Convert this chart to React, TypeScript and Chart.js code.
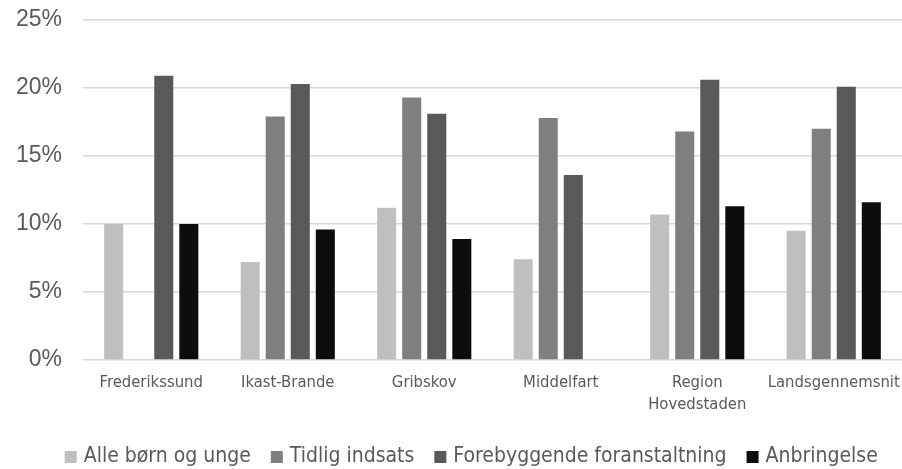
import React, { useEffect, useRef } from "react";
import { Chart, registerables } from "chart.js";

Chart.register(...registerables);

const categories: (string | string[])[] = [
  "Frederikssund",
  "Ikast-Brande",
  "Gribskov",
  "Middelfart",
  ["Region", "Hovedstaden"],
  "Landsgennemsnit",
];

const alleBoernOgUnge: (number | null)[] = [10.0, 7.2, 11.2, 7.4, 10.7, 9.5];
const tidligIndsats: (number | null)[] = [null, 17.9, 19.3, 17.8, 16.8, 17.0];
const forebyggende: (number | null)[] = [20.9, 20.3, 18.1, 13.6, 20.6, 20.1];
const anbringelse: (number | null)[] = [10.0, 9.6, 8.9, null, 11.3, 11.6];

const seriesNames = [
  "Alle børn og unge",
  "Tidlig indsats",
  "Forebyggende foranstaltning",
  "Anbringelse",
];
const seriesColors = ["#bfbfbf", "#7f7f7f", "#595959", "#0d0d0d"];

const yTicks = [0, 5, 10, 15, 20, 25];

const NARROW = "'DejaVu Sans Condensed', 'Liberation Sans Narrow', 'Liberation Sans', Arial, sans-serif";
const REGULAR = "'Liberation Sans', Arial, sans-serif";

const unclipYLabels = {
  id: "unclipYLabels",
  beforeDraw(chart: any) {
    const y = chart.scales.y;
    if (y) y.left = 0;
  },
};

export default function App() {
  const ref = useRef<HTMLCanvasElement | null>(null);

  useEffect(() => {
    document.body.style.margin = "0";
    const canvas = ref.current;
    if (!canvas) return;
    const values = [alleBoernOgUnge, tidligIndsats, forebyggende, anbringelse];
    const chart = new Chart(canvas, {
      type: "bar",
      data: {
        labels: categories as any,
        datasets: values.map((v, i) => ({
          label: seriesNames[i],
          data: v,
          backgroundColor: seriesColors[i],
          borderWidth: 0,
          barPercentage: 0.76,
          categoryPercentage: 0.734,
        })),
      },
      plugins: [unclipYLabels],
      options: {
        responsive: false,
        animation: false,
        layout: { padding: { top: 20, right: 0, left: 44, bottom: -8.5 } },
        plugins: {
          tooltip: { enabled: false },
          legend: {
            position: "bottom",
            title: { display: true, text: "", padding: 0, font: { size: 5, lineHeight: 1.4 } },
            labels: {
              usePointStyle: true,
              pointStyle: "rect",
              boxWidth: 5,
              boxHeight: 12,
              padding: 23.5,
              color: "#595959",
              font: { family: NARROW, size: 21 },
            },
          },
        },
        scales: {
          x: {
            grid: { display: true, color: "transparent", drawTicks: true, tickLength: 12, tickColor: "transparent" },
            border: { display: false },
            ticks: {
              color: "#595959",
              font: { family: NARROW, size: 16.5, lineHeight: "22px" },
              maxRotation: 0,
              autoSkip: false,
              padding: 0,
            },
          },
          y: {
            min: 0,
            max: 25,
            afterBuildTicks: (axis: any) => {
              axis.ticks = yTicks.map((v) => ({ value: v }));
            },
            afterFit: (axis: any) => {
              axis.width = 39;
            },
            grid: { color: "#d9d9d9", lineWidth: 1.5, drawTicks: true, tickLength: 20, tickColor: "transparent" },
            border: { display: false },
            ticks: {
              color: "#595959",
              font: { family: REGULAR, size: 23 },
              padding: 1,
              callback: (v: any) => `${v}%`,
            },
          },
        },
      },
    });
    return () => chart.destroy();
  }, []);

  return (
    <canvas
      ref={ref}
      width={902}
      height={469}
      style={{ display: "block", width: 902, height: 469 }}
    />
  );
}
